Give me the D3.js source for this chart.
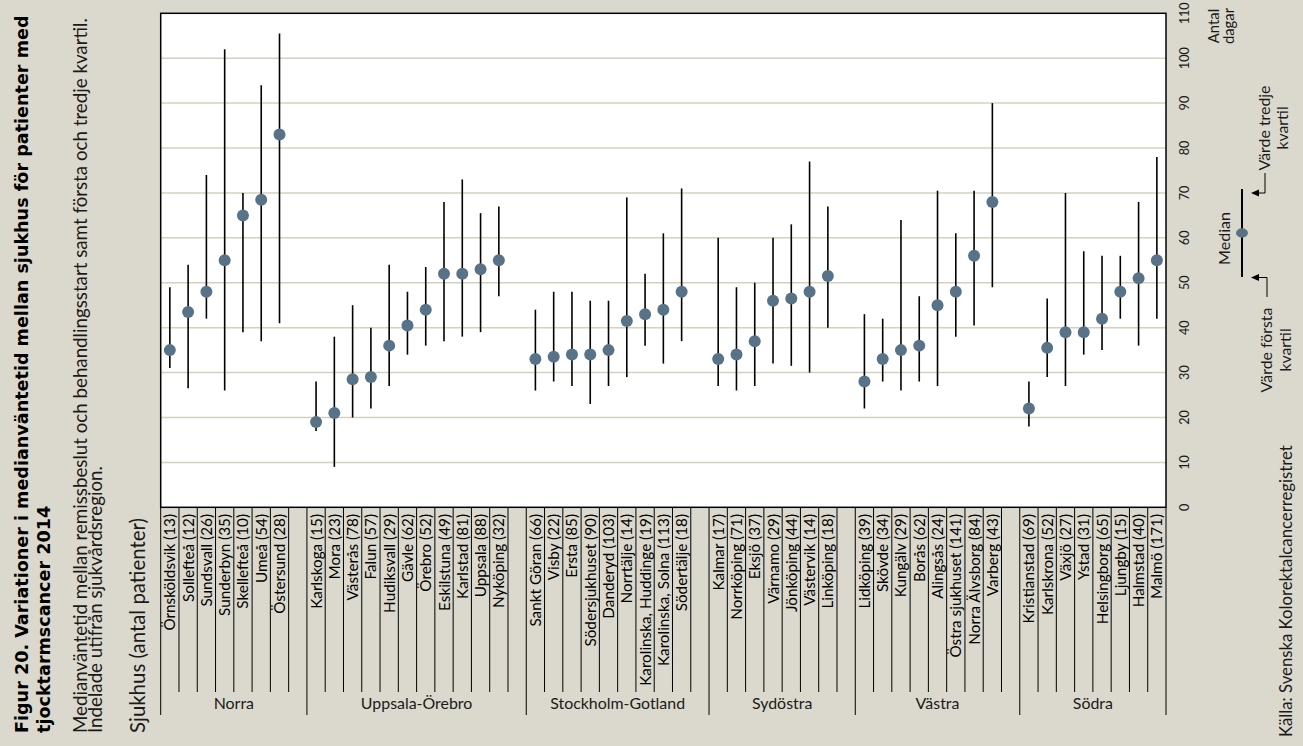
<!DOCTYPE html>
<html><head><meta charset="utf-8">
<script src="https://cdn.jsdelivr.net/npm/d3@7"></script>
<style>body{margin:0;background:#dbd9cd;} svg{display:block;font-family:Lato,"DejaVu Sans",sans-serif;}</style>
</head><body><svg id="c" width="1303" height="746"></svg>
<script>
// ---------- data ----------
const regions = ["Norra","Uppsala-Örebro","Stockholm-Gotland","Sydöstra","Västra","Södra"];
const regionSizes = [7,11,9,7,8,8];
const hospitals = [
  "Örnsköldsvik","Sollefteå","Sundsvall","Sunderbyn","Skellefteå","Umeå","Östersund",
  "Karlskoga","Mora","Västerås","Falun","Hudiksvall","Gävle","Örebro","Eskilstuna","Karlstad","Uppsala","Nyköping",
  "Sankt Göran","Visby","Ersta","Södersjukhuset","Danderyd","Norrtälje","Karolinska, Huddinge","Karolinska, Solna","Södertälje",
  "Kalmar","Norrköping","Eksjö","Värnamo","Jönköping","Västervik","Linköping",
  "Lidköping","Skövde","Kungälv","Borås","Alingsås","Östra sjukhuset","Norra Älvsborg","Varberg",
  "Kristianstad","Karlskrona","Växjö","Ystad","Helsingborg","Ljungby","Halmstad","Malmö"
];
const patients = [
  13,12,26,35,10,54,28,
  15,23,78,57,29,62,52,49,81,88,32,
  66,22,85,90,103,14,19,113,18,
  17,71,37,29,44,14,18,
  39,34,29,62,24,141,84,43,
  69,52,27,31,65,15,40,171
];
const medians = [
  35,43.5,48,55,65,68.5,83,
  19,21,28.5,29,36,40.5,44,52,52,53,55,
  33,33.5,34,34,35,41.5,43,44,48,
  33,34,37,46,46.5,48,51.5,
  28,33,35,36,45,48,56,68,
  22,35.5,39,39,42,48,51,55
];
const q1 = [
  31,26.5,42,26,39,37,41,
  17,9,20,22,27,34,36,37,38,39,47,
  26,28,27,23,27,29,36,32,37,
  27,26,27,32,31.5,30,40,
  22,28,26,28,27,38,40.5,49,
  18,29,27,34,35,42,36,42
];
const q3 = [
  49,54,74,102,70,94,105.5,
  28,38,45,40,54,48,53.5,68,73,65.5,67,
  44,48,48,46,46,69,52,61,71,
  60,49,50,60,63,77,67,
  43,42,64,47,70.5,61,70.5,90,
  28,46.5,70,57,56,56,68,78
];
const yTicks = [0,10,20,30,40,50,60,70,80,90,100,110];

// ---------- layout ----------
const W = 1303, H = 746;
const plot = {left:160.7, right:1166, top:13.3, bottom:507.3};
const bg = "#dbd9cd", gridCol = "#d4d2bf", dotCol = "#587387", txt = "#1a1a1a";
const svg = d3.select("#c");
svg.append("rect").attr("width",W).attr("height",H).attr("fill",bg);

// font-size that makes a string span a given length
function sizeFor(str, target, weight, family){
  const t = svg.append("text").attr("font-size",20).attr("font-weight",weight||"normal")
    .attr("font-family",family||null).text(str);
  const L = t.node().getComputedTextLength(); t.remove();
  return 20*target/L;
}

const slots = [], rows = [], regionStart = [];
let hi = 0;
regions.forEach((r,ri)=>{
  regionStart.push(slots.length);
  for (let k=0;k<regionSizes[ri];k++){
    slots.push("h"+hi);
    rows.push({key:"h"+hi, name:hospitals[hi], n:patients[hi], med:medians[hi], lo:q1[hi], hi:q3[hi]});
    hi++;
  }
  if (ri < regions.length-1) slots.push("gap"+ri);
});
regionStart.push(slots.length);

const x = d3.scaleBand().domain(slots).range([plot.left, plot.right]).padding(0);
const bw = x.bandwidth();
const y = d3.scaleLinear().domain([0,110]).range([plot.bottom, plot.top]);
const xEdge = i => plot.left + i*bw;

// plot background
svg.append("rect").attr("x",plot.left).attr("y",plot.top)
  .attr("width",plot.right-plot.left).attr("height",plot.bottom-plot.top).attr("fill","#fff");

// gridlines
svg.append("g").selectAll("line").data(yTicks.filter(t=>t>0&&t<110)).join("line")
  .attr("x1",plot.left).attr("x2",plot.right)
  .attr("y1",d=>y(d)).attr("y2",d=>y(d))
  .attr("stroke",gridCol).attr("stroke-width",1.5);

// whiskers + medians
const g = svg.append("g");
g.selectAll("line.w").data(rows).join("line").attr("class","w")
  .attr("x1",d=>x(d.key)+bw/2).attr("x2",d=>x(d.key)+bw/2)
  .attr("y1",d=>y(d.lo)).attr("y2",d=>y(d.hi))
  .attr("stroke","#000").attr("stroke-width",1.6);
g.selectAll("circle").data(rows).join("circle")
  .attr("cx",d=>x(d.key)+bw/2).attr("cy",d=>y(d.med)).attr("r",6)
  .attr("fill",dotCol);

// border
svg.append("rect").attr("x",plot.left).attr("y",plot.top)
  .attr("width",plot.right-plot.left).attr("height",plot.bottom-plot.top)
  .attr("fill","none").attr("stroke","#000").attr("stroke-width",1.5);

// category ticks
const tickIdx = d3.range(slots.length+1);
svg.append("g").selectAll("line").data(tickIdx).join("line")
  .attr("x1",i=>xEdge(i)).attr("x2",i=>xEdge(i))
  .attr("y1",plot.bottom).attr("y2",i=>regionStart.includes(i)?715:692)
  .attr("stroke","#000").attr("stroke-width",1);

// hospital labels
const fsH = sizeFor("Karolinska, Huddinge (19)",172);
svg.append("g").selectAll("text").data(rows).join("text")
  .attr("transform",d=>`translate(${x(d.key)+bw/2},514) rotate(-90)`)
  .attr("text-anchor","end").attr("dy","0.36em")
  .attr("font-size",fsH).attr("fill","#000")
  .text(d=>`${d.name} (${d.n})`);

// region labels
const fsR = sizeFor("Stockholm-Gotland",135);
svg.append("g").selectAll("text").data(regions).join("text")
  .attr("x",(d,i)=>(xEdge(regionStart[i])+xEdge(regionStart[i+1]))/2)
  .attr("y",709).attr("text-anchor","middle")
  .attr("font-size",fsR).attr("fill",txt).text(d=>d);

// right axis labels
const fsY = sizeFor("110",22);
svg.append("g").selectAll("text").data(yTicks).join("text")
  .attr("transform",d=>`translate(1184,${y(d)}) rotate(-90)`)
  .attr("text-anchor","middle").attr("dy","0.36em")
  .attr("font-size",fsY).attr("fill",txt).text(d=>d);

function rtext(xb, yp, str, opts={}){
  return svg.append("text")
    .attr("transform",`translate(${xb},${yp}) rotate(-90)`)
    .attr("text-anchor",opts.anchor||"start")
    .attr("font-size",opts.size||14)
    .attr("font-weight",opts.weight||"normal")
    .attr("font-family",opts.family||null)
    .attr("fill",opts.fill||txt).text(str);
}

const fsM = sizeFor("Median",53);
rtext(1219,26,"Antal",{size:fsM*0.92,anchor:"middle"});
rtext(1234,26,"dagar",{size:fsM*0.92,anchor:"middle"});

// title & subtitle
const titleFam = "'DejaVu Sans', sans-serif";
const fsT = sizeFor("Figur 20. Variationer i medianväntetid mellan sjukhus för patienter med",718,"bold",titleFam);
rtext(28,733,"Figur 20. Variationer i medianväntetid mellan sjukhus för patienter med",{size:fsT,weight:"bold",fill:"#000",family:titleFam});
rtext(50,733,"tjocktarmscancer 2014",{size:fsT,weight:"bold",fill:"#000",family:titleFam});
const fsS = sizeFor("Medianväntetid mellan remissbeslut och behandlingsstart samt första och tredje kvartil.",715);
rtext(87,733,"Medianväntetid mellan remissbeslut och behandlingsstart samt första och tredje kvartil.",{size:fsS});
rtext(102,733,"Indelade utifrån sjukvårdsregion.",{size:fsS});
rtext(145,733,"Sjukhus (antal patienter)",{size:sizeFor("Sjukhus (antal patienter)",215)});
rtext(1292,737,"Källa: Svenska Kolorektalcancerregistret",{size:sizeFor("Källa: Svenska Kolorektalcancerregistret",292)});

// legend
const lg = svg.append("g");
lg.append("line").attr("x1",1242).attr("x2",1242).attr("y1",189).attr("y2",277)
  .attr("stroke","#000").attr("stroke-width",2);
lg.append("ellipse").attr("cx",1242).attr("cy",233).attr("rx",6).attr("ry",4.7).attr("fill",dotCol);
rtext(1230,238.5,"Median",{size:fsM,anchor:"middle"});
lg.append("path").attr("d","M1265,173 V193 H1257").attr("fill","none").attr("stroke","#000").attr("stroke-width",1);
lg.append("path").attr("d","M1251,193 L1259,189.5 L1259,196.5 Z").attr("fill","#000");
lg.append("path").attr("d","M1267,297 V277.5 H1257").attr("fill","none").attr("stroke","#000").attr("stroke-width",1);
lg.append("path").attr("d","M1251,277.5 L1259,274 L1259,281 Z").attr("fill","#000");
const fsL = sizeFor("Värde tredje",85);
rtext(1270,128,"Värde tredje",{size:fsL,anchor:"middle"});
rtext(1288,128,"kvartil",{size:fsL,anchor:"middle"});
rtext(1272,350,"Värde första",{size:fsL,anchor:"middle"});
rtext(1291,350,"kvartil",{size:fsL,anchor:"middle"});
</script></body></html>
